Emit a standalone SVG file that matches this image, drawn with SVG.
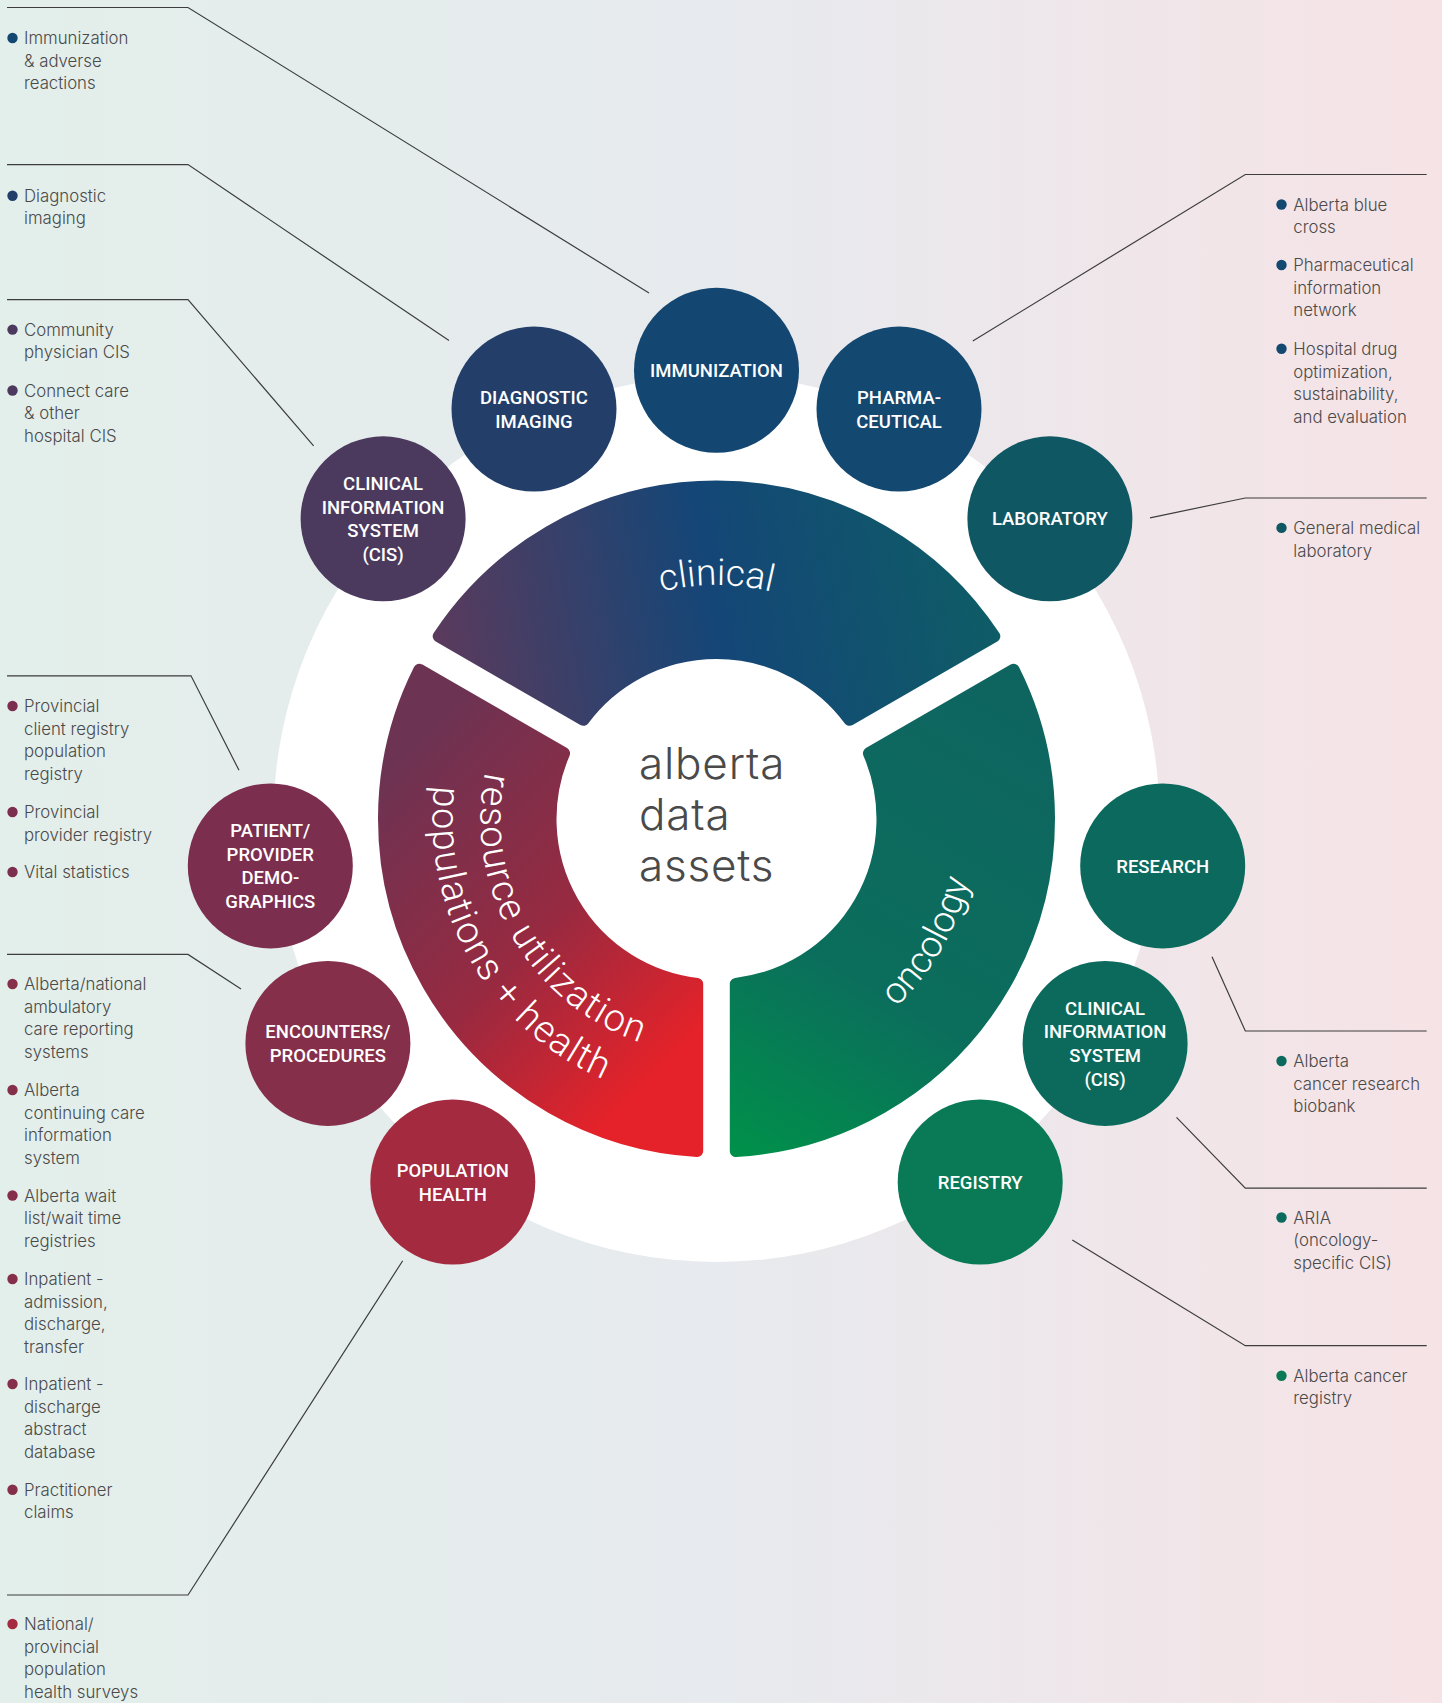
<svg xmlns="http://www.w3.org/2000/svg" width="1442" height="1703" viewBox="0 0 1442 1703">
<defs>
<linearGradient id="bg" x1="0" y1="0" x2="1442" y2="0" gradientUnits="userSpaceOnUse">
<stop offset="0" stop-color="#e3efea"/><stop offset="0.5" stop-color="#e7eaee"/><stop offset="1" stop-color="#f6e3e6"/>
</linearGradient>
<linearGradient id="gClin" x1="440" y1="700" x2="1000" y2="600" gradientUnits="userSpaceOnUse">
<stop offset="0" stop-color="#5c3a5c"/><stop offset="0.5" stop-color="#144677"/><stop offset="1" stop-color="#0e5d66"/>
</linearGradient>
<linearGradient id="gRes" x1="430" y1="720" x2="720" y2="1010" gradientUnits="userSpaceOnUse">
<stop offset="0" stop-color="#6c3353"/><stop offset="0.55" stop-color="#962a41"/><stop offset="1" stop-color="#e52229"/>
</linearGradient>
<linearGradient id="gOnc" x1="1000" y1="700" x2="735" y2="1150" gradientUnits="userSpaceOnUse">
<stop offset="0" stop-color="#0e6560"/><stop offset="0.6" stop-color="#0b6e5c"/><stop offset="1" stop-color="#00904a"/>
</linearGradient>
<path id="arcClin" d="M 483.39 798.6 A 234 234 0 0 1 949.61 798.6"/>
<path id="arcRes1" d="M 581.13 625.67 A 236 236 0 0 0 816.23 1032.89"/>
<path id="arcRes2" d="M 553.6 586.35 A 284 284 0 0 0 836.52 1076.39"/>
<path id="arcOnc" d="M 606.62 1054.64 A 260 260 0 0 0 865.64 606.01"/>
</defs>
<style>
.bt{font-family:Inter,Roboto,"Liberation Sans",sans-serif;font-weight:300;font-size:16.8px;fill:#4a4a4a}
.nt{font-family:Roboto,"Liberation Sans",sans-serif;font-weight:500;font-size:18.5px;fill:#ffffff;text-anchor:middle}
.rl{font-family:Roboto,"Liberation Sans",sans-serif;font-weight:300;font-size:37px;fill:#ffffff}
.rr{font-family:Roboto,"Liberation Sans",sans-serif;font-weight:300;font-size:38px;fill:#ffffff;letter-spacing:1.3px}
.ct{font-family:Inter,Roboto,"Liberation Sans",sans-serif;font-weight:300;font-size:44px;fill:#4a4a4a;letter-spacing:0.8px}
.ln{fill:none;stroke:#3d3d3d;stroke-width:1.2}
.seg{stroke-width:12;stroke-linejoin:round}
</style>
<rect x="0" y="0" width="1442" height="1703" fill="url(#bg)"/>
<circle cx="716.5" cy="819" r="443" fill="#ffffff"/>

<g id="ring">
<g id="seg-clinical">
<path class="seg" fill="url(#gClin)" stroke="url(#gClin)" d="M 438.69 636.32 A 332.5 332.5 0 0 1 994.31 636.32 L 849.63 719.85 A 166 166 0 0 0 583.37 719.85 Z"/>
<text class="rl"><textPath href="#arcClin" startOffset="50%" text-anchor="middle">clinical</textPath></text>
</g>
<g id="seg-oncology">
<path class="seg" fill="url(#gOnc)" stroke="url(#gOnc)" d="M 1013.61 669.74 A 332.5 332.5 0 0 1 735.8 1150.94 L 735.8 983.87 A 166 166 0 0 0 868.93 753.27 Z"/>
<text class="rl"><textPath href="#arcOnc" startOffset="50%" text-anchor="middle">oncology</textPath></text>
</g>
<g id="seg-resource">
<path class="seg" fill="url(#gRes)" stroke="url(#gRes)" d="M 697.2 1150.94 A 332.5 332.5 0 0 1 419.39 669.74 L 564.07 753.27 A 166 166 0 0 0 697.2 983.87 Z"/>
<text class="rr"><textPath href="#arcRes1" startOffset="50%" text-anchor="middle">resource utilization</textPath></text>
<text class="rr"><textPath href="#arcRes2" startOffset="50%" text-anchor="middle">populations + health</textPath></text>
</g>
</g>

<g id="center-title">
<text class="ct" x="639" y="778.5">alberta</text>
<text class="ct" x="639" y="829.5">data</text>
<text class="ct" x="639" y="880.5">assets</text>
</g>

<g id="connectors">
<polyline class="ln" points="7,7.5 188,7.5 649,293"/>
<polyline class="ln" points="7,164.6 188,164.6 449,340.6"/>
<polyline class="ln" points="7,299.7 188,299.7 313.6,445.8"/>
<polyline class="ln" points="7,675.8 191,675.8 239,770.3"/>
<polyline class="ln" points="7,954.4 188,954.4 241,989"/>
<polyline class="ln" points="7,1595 188,1595 402.7,1260.7"/>
<polyline class="ln" points="1426.7,174.5 1245.3,174.5 972.8,341"/>
<polyline class="ln" points="1426.7,498 1245.3,498 1150,517.8"/>
<polyline class="ln" points="1426.7,1031 1245.3,1031 1212,956.7"/>
<polyline class="ln" points="1426.7,1188.2 1245.3,1188.2 1176.5,1117.3"/>
<polyline class="ln" points="1426.7,1345.7 1245.3,1345.7 1072.3,1240"/>
</g>

<g id="node-immunization"><circle cx="716.5" cy="370.3" r="82.5" fill="#134670"/>
<text class="nt" x="716.5" y="376.9">IMMUNIZATION</text></g>
<g id="node-diagnostic"><circle cx="534" cy="409.1" r="82.5" fill="#233f69"/>
<text class="nt" x="534" y="403.9">DIAGNOSTIC</text><text class="nt" x="534" y="427.6">IMAGING</text></g>
<g id="node-pharma"><circle cx="899" cy="409.1" r="82.5" fill="#134870"/>
<text class="nt" x="899" y="403.9">PHARMA-</text><text class="nt" x="899" y="427.6">CEUTICAL</text></g>
<g id="node-cis-left"><circle cx="383.1" cy="518.8" r="82.5" fill="#4b3a5e"/>
<text class="nt" x="383.1" y="489.9">CLINICAL</text><text class="nt" x="383.1" y="513.6">INFORMATION</text><text class="nt" x="383.1" y="537.3">SYSTEM</text><text class="nt" x="383.1" y="561">(CIS)</text></g>
<g id="node-laboratory"><circle cx="1049.9" cy="518.8" r="82.5" fill="#0f5763"/>
<text class="nt" x="1049.9" y="525.4">LABORATORY</text></g>
<g id="node-patient"><circle cx="270.3" cy="865.9" r="82.5" fill="#7b2e4e"/>
<text class="nt" x="270.3" y="837">PATIENT/</text><text class="nt" x="270.3" y="860.7">PROVIDER</text><text class="nt" x="270.3" y="884.4">DEMO-</text><text class="nt" x="270.3" y="908.1">GRAPHICS</text></g>
<g id="node-research"><circle cx="1162.7" cy="865.9" r="82.5" fill="#0b6a5d"/>
<text class="nt" x="1162.7" y="872.5">RESEARCH</text></g>
<g id="node-encounters"><circle cx="327.9" cy="1043.4" r="82.5" fill="#852f4a"/>
<text class="nt" x="327.9" y="1038.2">ENCOUNTERS/</text><text class="nt" x="327.9" y="1061.9">PROCEDURES</text></g>
<g id="node-cis-right"><circle cx="1105.1" cy="1043.4" r="82.5" fill="#0b6a5c"/>
<text class="nt" x="1105.1" y="1014.5">CLINICAL</text><text class="nt" x="1105.1" y="1038.2">INFORMATION</text><text class="nt" x="1105.1" y="1061.9">SYSTEM</text><text class="nt" x="1105.1" y="1085.6">(CIS)</text></g>
<g id="node-population"><circle cx="452.8" cy="1182" r="82.5" fill="#a32a3f"/>
<text class="nt" x="452.8" y="1176.8">POPULATION</text><text class="nt" x="452.8" y="1200.5">HEALTH</text></g>
<g id="node-registry"><circle cx="980.2" cy="1182" r="82.5" fill="#097a55"/>
<text class="nt" x="980.2" y="1188.6">REGISTRY</text></g>

<g id="left-lists">
<circle cx="12.5" cy="38" r="5.2" fill="#134670"/>
<text class="bt"><tspan x="24" y="44">Immunization</tspan><tspan x="24" y="66.7">&amp; adverse</tspan><tspan x="24" y="89.4">reactions</tspan></text>
<circle cx="12.5" cy="195.7" r="5.2" fill="#233f69"/>
<text class="bt"><tspan x="24" y="201.7">Diagnostic</tspan><tspan x="24" y="224.4">imaging</tspan></text>
<circle cx="12.5" cy="329.6" r="5.2" fill="#4b3a5e"/>
<text class="bt"><tspan x="24" y="335.6">Community</tspan><tspan x="24" y="358.3">physician CIS</tspan></text>
<circle cx="12.5" cy="390.5" r="5.2" fill="#4b3a5e"/>
<text class="bt"><tspan x="24" y="396.5">Connect care</tspan><tspan x="24" y="419.2">&amp; other</tspan><tspan x="24" y="441.9">hospital CIS</tspan></text>
<circle cx="12.5" cy="706" r="5.2" fill="#7b2e4e"/>
<text class="bt"><tspan x="24" y="712">Provincial</tspan><tspan x="24" y="734.7">client registry</tspan><tspan x="24" y="757.4">population</tspan><tspan x="24" y="780.1">registry</tspan></text>
<circle cx="12.5" cy="812" r="5.2" fill="#7b2e4e"/>
<text class="bt"><tspan x="24" y="818">Provincial</tspan><tspan x="24" y="840.7">provider registry</tspan></text>
<circle cx="12.5" cy="872" r="5.2" fill="#7b2e4e"/>
<text class="bt"><tspan x="24" y="878">Vital statistics</tspan></text>
<circle cx="12.5" cy="984" r="5.2" fill="#852f4a"/>
<text class="bt"><tspan x="24" y="990">Alberta/national</tspan><tspan x="24" y="1012.7">ambulatory</tspan><tspan x="24" y="1035.4">care reporting</tspan><tspan x="24" y="1058.1">systems</tspan></text>
<circle cx="12.5" cy="1090" r="5.2" fill="#852f4a"/>
<text class="bt"><tspan x="24" y="1096">Alberta</tspan><tspan x="24" y="1118.7">continuing care</tspan><tspan x="24" y="1141.4">information</tspan><tspan x="24" y="1164.1">system</tspan></text>
<circle cx="12.5" cy="1195.5" r="5.2" fill="#852f4a"/>
<text class="bt"><tspan x="24" y="1201.5">Alberta wait</tspan><tspan x="24" y="1224.2">list/wait time</tspan><tspan x="24" y="1246.9">registries</tspan></text>
<circle cx="12.5" cy="1279" r="5.2" fill="#852f4a"/>
<text class="bt"><tspan x="24" y="1285">Inpatient -</tspan><tspan x="24" y="1307.7">admission,</tspan><tspan x="24" y="1330.4">discharge,</tspan><tspan x="24" y="1353.1">transfer</tspan></text>
<circle cx="12.5" cy="1384" r="5.2" fill="#852f4a"/>
<text class="bt"><tspan x="24" y="1390">Inpatient -</tspan><tspan x="24" y="1412.7">discharge</tspan><tspan x="24" y="1435.4">abstract</tspan><tspan x="24" y="1458.1">database</tspan></text>
<circle cx="12.5" cy="1489.7" r="5.2" fill="#852f4a"/>
<text class="bt"><tspan x="24" y="1495.7">Practitioner</tspan><tspan x="24" y="1518.4">claims</tspan></text>
<circle cx="12.5" cy="1624" r="5.2" fill="#a32a3f"/>
<text class="bt"><tspan x="24" y="1630">National/</tspan><tspan x="24" y="1652.7">provincial</tspan><tspan x="24" y="1675.4">population</tspan><tspan x="24" y="1698.1">health surveys</tspan></text>
</g>

<g id="right-lists">
<circle cx="1281.5" cy="204.5" r="5.2" fill="#134870"/>
<text class="bt"><tspan x="1293.3" y="210.5">Alberta blue</tspan><tspan x="1293.3" y="233.2">cross</tspan></text>
<circle cx="1281.5" cy="265" r="5.2" fill="#134870"/>
<text class="bt"><tspan x="1293.3" y="271">Pharmaceutical</tspan><tspan x="1293.3" y="293.7">information</tspan><tspan x="1293.3" y="316.4">network</tspan></text>
<circle cx="1281.5" cy="348.8" r="5.2" fill="#134870"/>
<text class="bt"><tspan x="1293.3" y="354.8">Hospital drug</tspan><tspan x="1293.3" y="377.5">optimization,</tspan><tspan x="1293.3" y="400.2">sustainability,</tspan><tspan x="1293.3" y="422.9">and evaluation</tspan></text>
<circle cx="1281.5" cy="527.9" r="5.2" fill="#0f5763"/>
<text class="bt"><tspan x="1293.3" y="533.9">General medical</tspan><tspan x="1293.3" y="556.6">laboratory</tspan></text>
<circle cx="1281.5" cy="1061" r="5.2" fill="#0b6a5d"/>
<text class="bt"><tspan x="1293.3" y="1067">Alberta</tspan><tspan x="1293.3" y="1089.7">cancer research</tspan><tspan x="1293.3" y="1112.4">biobank</tspan></text>
<circle cx="1281.5" cy="1217.5" r="5.2" fill="#0b6a5c"/>
<text class="bt"><tspan x="1293.3" y="1223.5">ARIA</tspan><tspan x="1293.3" y="1246.2">(oncology-</tspan><tspan x="1293.3" y="1268.9">specific CIS)</tspan></text>
<circle cx="1281.5" cy="1375.7" r="5.2" fill="#097a55"/>
<text class="bt"><tspan x="1293.3" y="1381.7">Alberta cancer</tspan><tspan x="1293.3" y="1404.4">registry</tspan></text>
</g>
</svg>
